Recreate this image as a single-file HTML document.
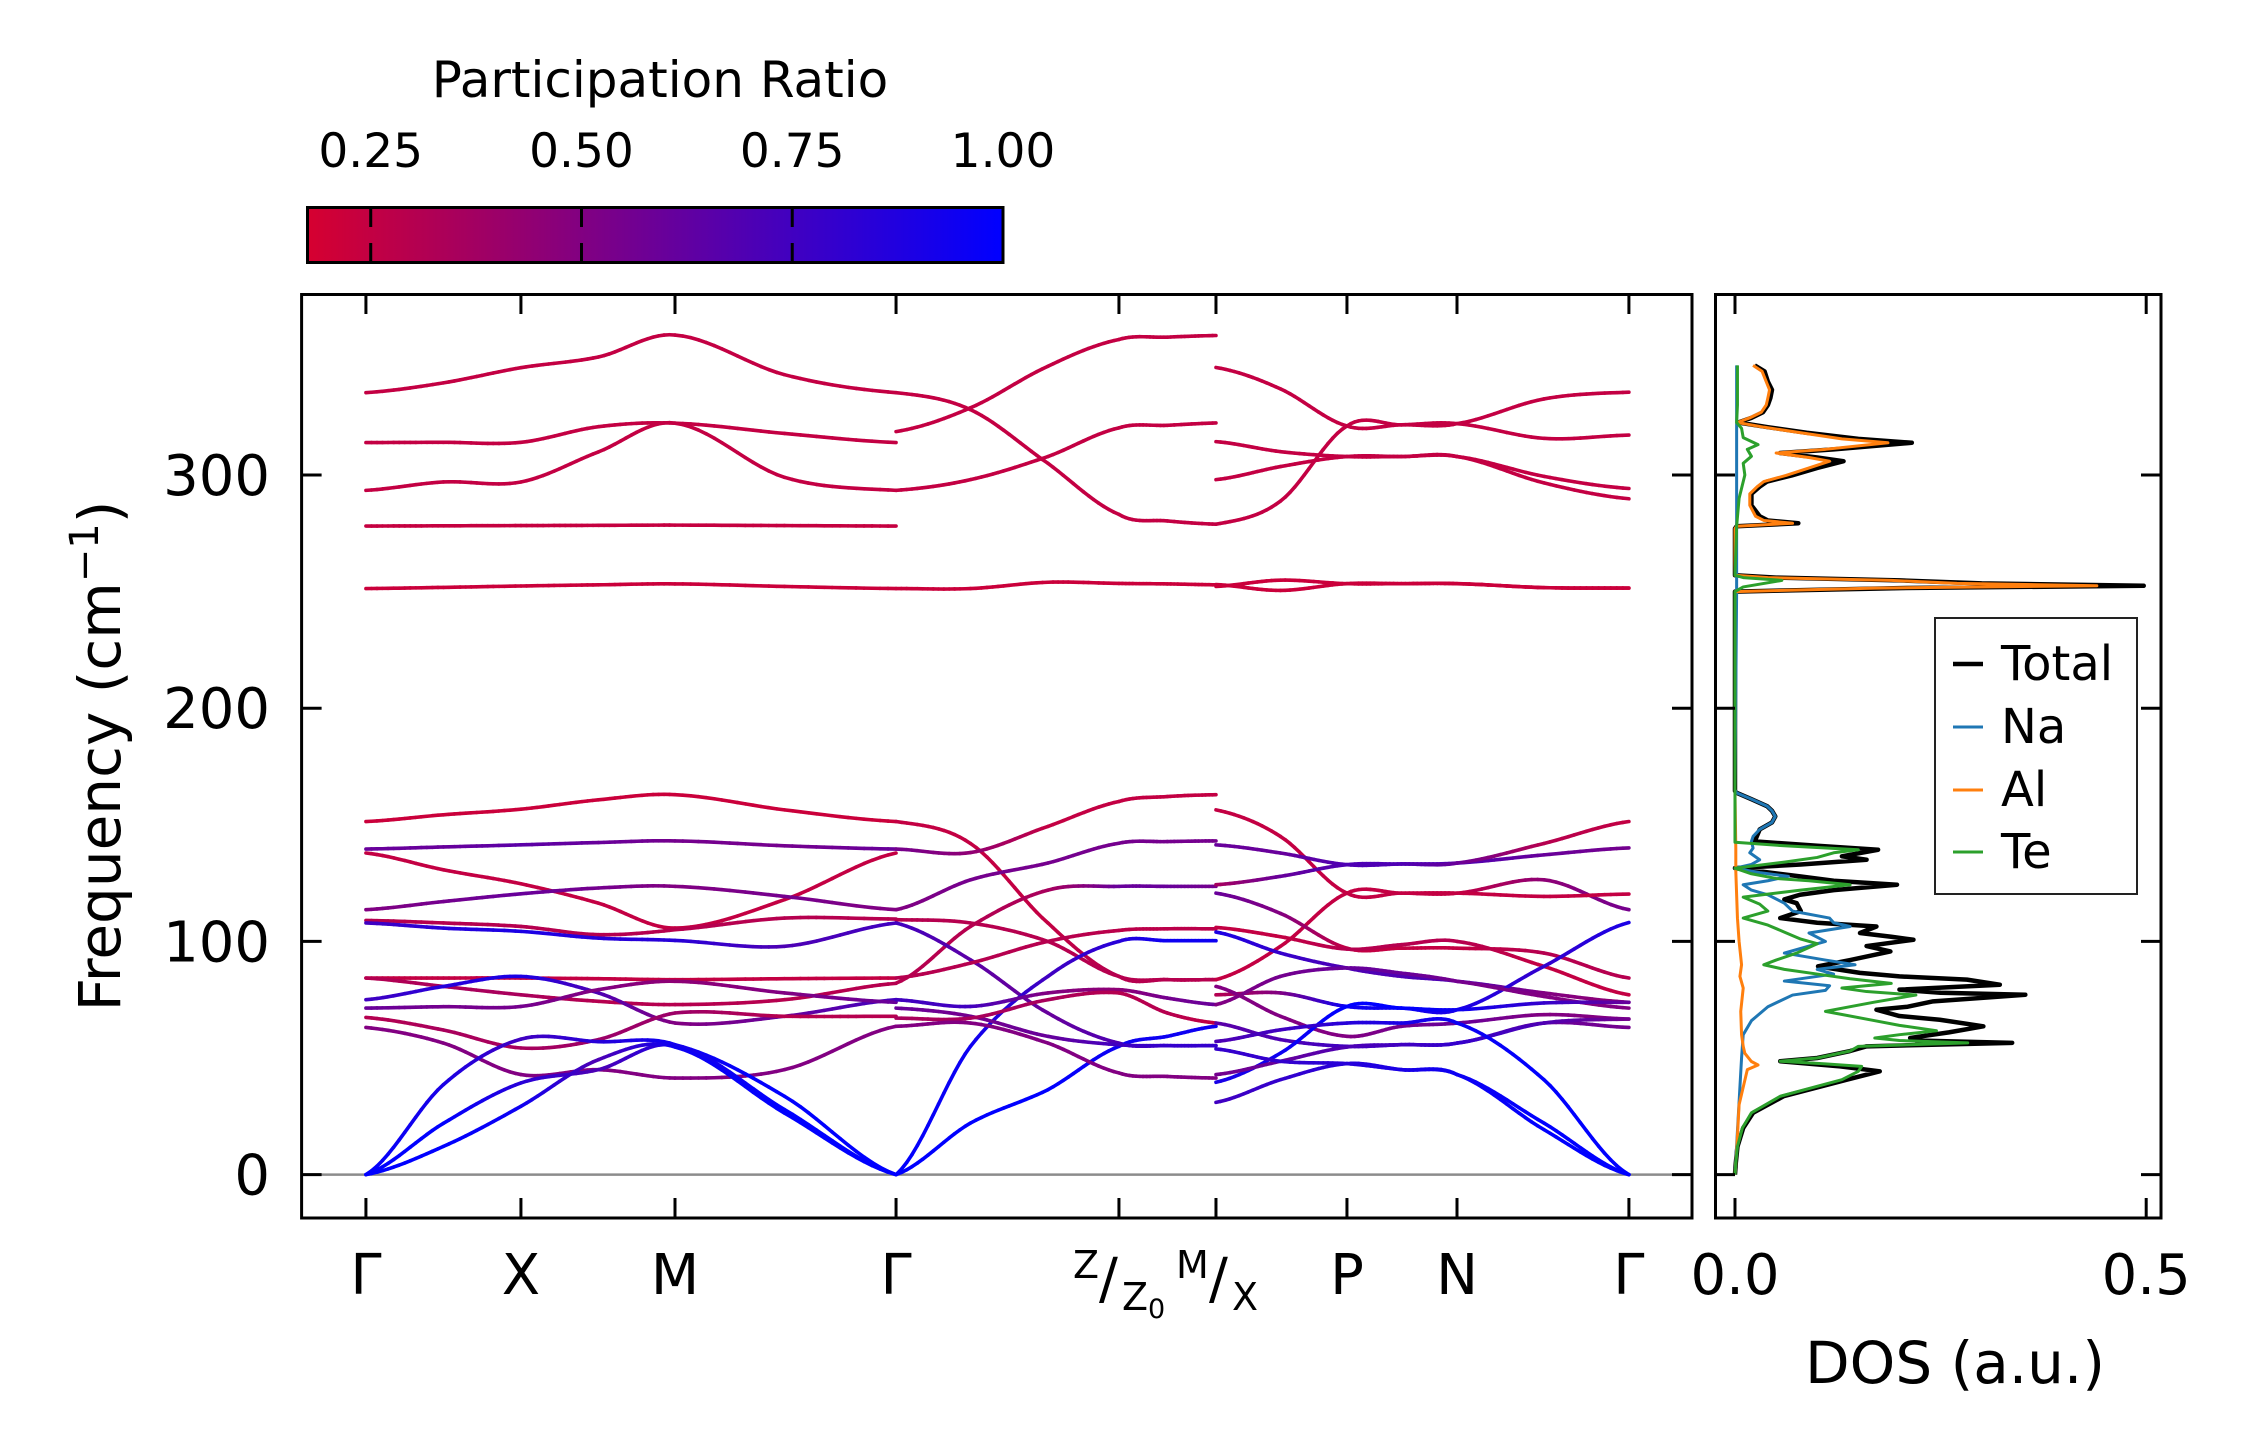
<!DOCTYPE html>
<html><head><meta charset="utf-8"><title>Phonon band structure and DOS</title>
<style>
html,body{margin:0;padding:0;background:#fff;}
svg{display:block;}
text{font-family:"DejaVu Sans","Liberation Sans",sans-serif;fill:#000;}
</style></head>
<body>
<svg id="fig" xmlns="http://www.w3.org/2000/svg" width="2252" height="1455" viewBox="0 0 2252 1455">
  <defs>
    <linearGradient id="cbgrad" x1="0" x2="1" y1="0" y2="0">
      <stop offset="0" stop-color="rgb(214,0,48)"/>
      <stop offset="1" stop-color="rgb(0,0,255)"/>
    </linearGradient>
    <clipPath id="mainclip"><rect x="301.6" y="294" width="1390.4" height="924"/></clipPath>
    <clipPath id="dosclip"><rect x="1715" y="294" width="446" height="924"/></clipPath>
  </defs>
  <rect width="2252" height="1455" fill="#fff"/>

  <!-- colorbar -->
  <g>
    <text x="660" y="97" font-size="50" text-anchor="middle">Participation Ratio</text>
    <rect x="307.5" y="207.5" width="695.5" height="55" fill="url(#cbgrad)" stroke="#000" stroke-width="3"/>
    <g id="cbticks"></g>
  </g>

  <!-- main band panel -->
  <g>
    <line id="zeroline" x1="301.6" x2="1692" stroke="#8c8c8c" stroke-width="2.5"/>
    <g id="bands" clip-path="url(#mainclip)"></g>
    <rect x="301.6" y="294.5" width="1390.4" height="923.5" fill="none" stroke="#000" stroke-width="3"/>
    <g id="mainticks"></g>
    <text transform="translate(120,756) rotate(-90)" font-size="58" text-anchor="middle">Frequency (cm<tspan font-size="40" dy="-22">−1</tspan><tspan dy="22">)</tspan></text>
    <g font-size="38">
      <text x="1073" y="1278">Z</text>
      <text x="1099" y="1298" font-size="56">/</text>
      <text x="1122" y="1310">Z<tspan font-size="27" dy="8">0</tspan></text>
      <text x="1176" y="1278">M</text>
      <text x="1209" y="1298" font-size="56">/</text>
      <text x="1232" y="1310">X</text>
    </g>
  </g>

  <!-- DOS panel -->
  <g>
    <g id="dos" clip-path="url(#dosclip)"></g>
    <rect x="1715.5" y="294.5" width="445.5" height="923.5" fill="none" stroke="#000" stroke-width="3"/>
    <g id="dosticks"></g>
    <text x="1955" y="1383" font-size="58" text-anchor="middle">DOS (a.u.)</text>
    <g>
      <rect x="1935" y="618" width="202" height="276" fill="#fff" stroke="#222" stroke-width="2"/>
      <line x1="1953" x2="1983" y1="664" y2="664" stroke="#000" stroke-width="4.5"/>
      <text x="2001" y="680" font-size="48">Total</text>
      <line x1="1953" x2="1983" y1="727" y2="727" stroke="#1f77b4" stroke-width="3"/>
      <text x="2001" y="743" font-size="48">Na</text>
      <line x1="1953" x2="1983" y1="790" y2="790" stroke="#ff7f0e" stroke-width="3"/>
      <text x="2001" y="806" font-size="48">Al</text>
      <line x1="1953" x2="1983" y1="852" y2="852" stroke="#2ca02c" stroke-width="3"/>
      <text x="2001" y="868" font-size="48">Te</text>
    </g>
  </g>
</svg>
<script>
// ---------- data ----------
const yTicks = [0, 100, 200, 300];
const yTickLabels = ["0", "100", "200", "300"];
const kTicks = [0, 1.0, 1.994, 3.42, 4.858, 5.484, 6.329, 7.039, 8.148];
const kTickLabels = ["Γ", "X", "M", "Γ", "", "", "P", "N", "Γ"];
const cbTicks = [0.25, 0.5, 0.75, 1.0];
const cbTickLabels = ["0.25", "0.50", "0.75", "1.00"];
const dosTicks = [0.0, 0.5];
const dosTickLabels = ["0.0", "0.5"];

// k sample points per path segment
const kSegA = [0, 0.5, 1.0, 1.5, 1.994, 2.7, 3.42];
const kSegB = [3.42, 3.9, 4.4, 4.858, 5.17, 5.484];
const kSegC = [5.484, 5.9, 6.329, 6.68, 7.039, 7.6, 8.148];

// segment A bands: frequencies (cm^-1) and participation ratios
const bandsA = [
  [335.3,339.5,346,350.6,360,343,335.3],
  [313.9,314,314,320.7,322.2,317.8,313.9],
  [293.4,297,297,309.9,322.2,299,293.4],
  [278.1,278.2,278.3,278.4,278.5,278.3,278.1],
  [251.3,251.8,252.4,252.9,253.3,252.2,251.3],
  [151.4,154.3,156.7,160.7,162.9,156.4,151.4],
  [139.6,140.5,141.4,142.4,143.1,141,139.6],
  [137.9,130.7,124.7,116.4,105.7,117.9,137.9],
  [113.6,117.1,120.4,122.9,123.6,119.3,113.6],
  [109,107.9,106.4,102.9,105,110,109.6],
  [107.9,105.7,104.3,101.4,100.4,97.9,107.9],
  [84.3,84.3,84.3,84,83.6,84,84.3],
  [84.3,80.7,77.1,74.3,72.9,75,82],
  [75,80.7,85,77.9,65,67.9,75],
  [71.4,72,72.1,79.3,82.9,77.9,73.9],
  [67.4,62,54.3,57.9,69.3,67.9,67.9],
  [63.1,56.4,42.9,45,41.4,45,63.6],
  [0,38.6,58.1,57,55.7,33.6,0],
  [0,22,39.3,45,55.3,27.9,0],
  [0,12.1,29.3,49.3,54.7,26.4,0]
];
const prA = [
  [0.25,0.25,0.25,0.25,0.25,0.25,0.25],
  [0.25,0.25,0.25,0.25,0.25,0.25,0.25],
  [0.25,0.25,0.25,0.25,0.25,0.25,0.25],
  [0.24,0.24,0.24,0.24,0.24,0.24,0.24],
  [0.22,0.22,0.22,0.22,0.22,0.22,0.22],
  [0.22,0.22,0.22,0.22,0.22,0.22,0.22],
  [0.6,0.6,0.65,0.6,0.55,0.55,0.6],
  [0.25,0.25,0.25,0.25,0.25,0.25,0.25],
  [0.5,0.55,0.6,0.55,0.5,0.55,0.5],
  [0.3,0.3,0.3,0.3,0.3,0.3,0.3],
  [0.75,0.85,0.9,0.85,0.85,0.7,0.75],
  [0.25,0.25,0.25,0.25,0.25,0.25,0.25],
  [0.3,0.35,0.35,0.3,0.3,0.3,0.3],
  [0.75,0.85,0.9,0.7,0.5,0.6,0.75],
  [0.6,0.55,0.55,0.5,0.45,0.5,0.6],
  [0.3,0.35,0.35,0.4,0.4,0.3,0.3],
  [0.5,0.5,0.5,0.5,0.5,0.5,0.5],
  [1,0.9,0.75,0.85,0.95,1,1],
  [1,1,0.85,0.7,0.9,1,1],
  [1,1,0.95,0.7,0.95,1,1]
];

// segment B bands
const bandsB = [
  [318.6,328.8,346.6,358.1,359.1,359.8],
  [335.3,328,305,283.1,280.3,278.9],
  [293.4,298,307.9,320.2,321.3,322.3],
  [251.3,251.3,254,253.5,253.3,252.9],
  [151.4,142,107.9,85,83.6,83.6],
  [139.6,138.1,149.3,160,162.1,162.9],
  [113.6,126.4,133.6,142.1,142.8,143.1],
  [82.1,106.4,122,123.6,123.6,123.6],
  [109.3,107.9,100,85,83.6,83.6],
  [107.9,92.1,69.3,56.4,55.3,55.3],
  [84.3,90.7,100,104.7,105.4,105.4],
  [0,55,85,100,100.3,100.3],
  [0,22.1,36.4,55,59.3,63.6],
  [75,72.1,77.9,79.3,75.7,72.9],
  [71.4,67.9,59.3,55.7,55.3,55.3],
  [67.1,67.1,75,77.9,69.3,65],
  [63.6,65,56.4,43.6,42.1,41.4]
];
const prB = [
  [0.25,0.25,0.25,0.25,0.25,0.25],
  [0.25,0.25,0.25,0.25,0.25,0.25],
  [0.25,0.25,0.25,0.25,0.25,0.25],
  [0.22,0.22,0.22,0.22,0.22,0.22],
  [0.25,0.25,0.25,0.3,0.3,0.3],
  [0.55,0.45,0.25,0.25,0.25,0.25],
  [0.5,0.55,0.55,0.55,0.55,0.55],
  [0.3,0.3,0.35,0.6,0.6,0.55],
  [0.3,0.3,0.3,0.3,0.3,0.3],
  [0.75,0.65,0.6,0.7,0.75,0.75],
  [0.3,0.3,0.3,0.28,0.28,0.28],
  [1,0.95,0.75,0.85,0.95,0.95],
  [1,1,1,0.95,0.95,0.95],
  [0.75,0.75,0.5,0.45,0.55,0.6],
  [0.6,0.55,0.6,0.75,0.8,0.8],
  [0.35,0.35,0.35,0.3,0.3,0.25],
  [0.5,0.5,0.5,0.5,0.5,0.5]
];

// segment C bands
const bandsC = [
  [346.1,336.9,321,321.5,322,332.6,335.5],
  [314.3,310,307.9,307.9,307.9,299.4,294.2],
  [298,303.6,307.9,307.9,307.9,296.6,289.8],
  [278.9,288.8,321,321.5,322,315.7,317.1],
  [252.2,254.9,253.4,253.4,253.4,251.7,251.5],
  [253,250.5,253.4,253.4,253.4,251.7,251.5],
  [156.4,145,120.7,120.7,120.7,126.4,113.6],
  [83.6,97.9,120.7,120.7,120.7,119.3,120.3],
  [124.3,127.9,132.9,133.2,133.6,137.1,140.1],
  [141.4,137.9,132.9,133.2,133.6,142,151.4],
  [120.7,112,97.1,97.1,97.1,95,84.3],
  [106,102,96.7,98.6,100,89.3,77.1],
  [104,95,88.6,85,82.9,77.9,73.9],
  [77.1,77.9,72.1,71.4,70.7,89.3,108.1],
  [72.9,85,88.6,86.4,82.9,76.4,71.4],
  [80.7,67.9,59.3,63.6,65,68.6,66.7],
  [65,57.9,55,55.7,56.4,65,63.1],
  [39.6,52.1,72.1,71.4,70.7,73.6,73.9],
  [42.9,48.6,54.7,55.7,56.4,65,66.7],
  [31,40.7,47.6,45,42.9,22.1,0],
  [53.9,48.6,47.6,45,42.9,19.3,0],
  [57.1,62.1,65,65,65,40.7,0]
];
const prC = [
  [0.25,0.25,0.25,0.25,0.25,0.25,0.25],
  [0.25,0.25,0.25,0.25,0.25,0.25,0.25],
  [0.25,0.25,0.25,0.25,0.25,0.25,0.25],
  [0.25,0.25,0.25,0.25,0.25,0.25,0.25],
  [0.22,0.22,0.22,0.22,0.22,0.22,0.22],
  [0.22,0.22,0.22,0.22,0.22,0.22,0.22],
  [0.25,0.25,0.25,0.25,0.25,0.45,0.55],
  [0.25,0.25,0.25,0.25,0.25,0.25,0.25],
  [0.35,0.6,0.7,0.7,0.7,0.6,0.55],
  [0.6,0.6,0.7,0.7,0.6,0.3,0.25],
  [0.6,0.5,0.25,0.25,0.25,0.3,0.3],
  [0.25,0.25,0.3,0.3,0.3,0.25,0.25],
  [0.9,0.8,0.7,0.7,0.7,0.5,0.45],
  [0.3,0.5,0.95,0.95,0.9,0.8,0.9],
  [0.5,0.55,0.6,0.6,0.55,0.5,0.5],
  [0.5,0.5,0.5,0.55,0.6,0.5,0.5],
  [0.65,0.7,0.75,0.75,0.8,0.6,0.55],
  [0.9,0.95,1,1,0.95,0.8,0.6],
  [0.55,0.6,0.7,0.75,0.8,0.7,0.55],
  [0.75,0.8,0.85,0.9,0.95,1,1],
  [0.8,0.8,0.85,0.9,0.95,1,1],
  [0.7,0.75,0.85,0.9,0.95,1,1]
];

// DOS (frequency in cm^-1, value in a.u.)
const totalF = [0,5,12,20,26.5,33.6,40.7,44.3,46.4,48.6,50,53,55,56.5,57.5,58.6,61,63.6,66.4,68,70.7,72,74.3,77.1,78,79.3,81.4,83.6,85,86.5,89.3,92,95.7,98,100.7,102,103.6,106.4,108,110,113,116.4,118,120,122,124.3,126,127.9,131.4,133,135,136.5,139.3,141,142.9,148,151,153.6,156,158,161,163.7,164.5,250,251.5,252.5,253.5,254.8,256,257,277,278,279.3,280.5,282.3,287,291.9,295,297.2,299.8,303,305.9,307.5,309.4,311,313.8,315.5,318.1,320.5,322.5,324.5,326.9,330,333,336.5,340,344.4,347];
const totalV = [0,0.001,0.003,0.01,0.022,0.059,0.136,0.176,0.128,0.055,0.1,0.14,0.16,0.337,0.22,0.213,0.26,0.302,0.249,0.2,0.172,0.21,0.241,0.353,0.25,0.2,0.322,0.282,0.2,0.152,0.101,0.14,0.189,0.16,0.217,0.19,0.152,0.172,0.1,0.055,0.08,0.075,0.06,0.079,0.12,0.197,0.12,0.079,0.0,0.08,0.16,0.13,0.174,0.1,0.024,0.03,0.045,0.049,0.045,0.039,0.02,0.002,0,0,0.2,0.497,0.3,0.2,0.05,0,0,0.002,0.077,0.04,0.03,0.02,0.02,0.03,0.039,0.069,0.1,0.132,0.1,0.055,0.12,0.215,0.15,0.087,0.04,0.004,0.02,0.034,0.04,0.043,0.045,0.04,0.036,0.024];
const naF = [0,50,60,66,72,77,79,81,83,86,88,90,92,95,98,100,103.6,106.4,108,110,113,116.4,120,122,124.3,126,127.9,129.5,131.4,133,135,138,140,142.9,145,148,151,153.6,156,158,161,163.7,165,250,347];
const naV = [0,0.008,0.01,0.02,0.04,0.07,0.11,0.115,0.06,0.12,0.1,0.146,0.11,0.06,0.09,0.11,0.09,0.14,0.12,0.115,0.07,0.06,0.04,0.02,0.01,0.04,0.065,0.03,0.0,0.02,0.03,0.018,0.022,0.02,0.022,0.03,0.045,0.049,0.045,0.039,0.02,0.002,0,0.002,0.002];
const alF = [0,10,30,45,47,48.5,52,55,60,70,80,85,90,100,110,120,130,140,164,250,251.5,252.5,253.5,254.8,256,257,277,278,279.3,280.5,282.3,287,291.9,295,297.2,299.8,303,305.9,307.5,309.4,311,313.8,315.5,318.1,320.5,322.5,324.5,326.9,330,333,336.5,340,344.4,347];
const alV = [0,0.002,0.005,0.015,0.028,0.02,0.012,0.01,0.008,0.007,0.01,0.006,0.008,0.005,0.003,0.002,0.001,0.001,0,0,0.17,0.44,0.27,0.19,0.04,0,0,0.002,0.07,0.035,0.025,0.018,0.018,0.027,0.035,0.062,0.09,0.115,0.09,0.05,0.11,0.186,0.13,0.08,0.035,0.003,0.018,0.032,0.038,0.04,0.042,0.038,0.033,0.022];
const teF = [0,5,12,20,26.5,33.6,40.7,44.3,46.4,47.5,48.6,50,53,55,56.5,57.5,58.6,60,61.7,64,66,70,72,74,77,78.5,80,82,84,86,88,90,92,95,99,101,104,107,110,113,116,119,122,124.3,126,127,129,131.4,134,136,138,139.3,141,142.5,250,252,254.8,256,257,278,290,300,305,308,311,313,316,320,322.5,330,347];
const teV = [0,0.001,0.003,0.009,0.02,0.055,0.13,0.15,0.154,0.11,0.055,0.1,0.14,0.15,0.283,0.2,0.17,0.2,0.245,0.2,0.17,0.11,0.14,0.17,0.22,0.16,0.13,0.19,0.14,0.1,0.06,0.035,0.05,0.075,0.1,0.08,0.06,0.04,0.01,0.04,0.03,0.01,0.08,0.14,0.09,0.05,0.02,0.0,0.06,0.1,0.12,0.15,0.06,0.0,0,0.01,0.057,0.01,0,0.002,0.005,0.012,0.01,0.02,0.015,0.028,0.01,0.008,0.002,0.003,0.003];

// ---------- scales ----------
const NS = "http://www.w3.org/2000/svg";
const plotL = 301.6, plotR = 1692, plotT = 294, plotB = 1218;
const kMin = -0.415, kMax = 8.555, fMin = -18.6, fMax = 377.6;
const dosL = 1715, dosR = 2161, dMin = -0.0243, dMax = 0.518;
const cbL = 307.5, cbR = 1003, cbMin = 0.175, cbMax = 1.0;
function xk(k){ return plotL + (k - kMin) / (kMax - kMin) * (plotR - plotL); }
function yf(f){ return plotB - (f - fMin) / (fMax - fMin) * (plotB - plotT); }
function xd(v){ return dosL + (v - dMin) / (dMax - dMin) * (dosR - dosL); }
function xcb(v){ return cbL + (v - cbMin) / (cbMax - cbMin) * (cbR - cbL); }
function prColor(p){
  let t = (p - cbMin) / (cbMax - cbMin); t = Math.max(0, Math.min(1, t));
  const r = Math.round(214 * (1 - t)), g = 0, b = Math.round(48 + (255 - 48) * t);
  return "rgb(" + r + "," + g + "," + b + ")";
}
function mk(tag, attrs, parent){
  const el = document.createElementNS(NS, tag);
  for (const k in attrs) el.setAttribute(k, attrs[k]);
  parent.appendChild(el);
  return el;
}

// zero line
const zl = document.getElementById("zeroline");
zl.setAttribute("y1", yf(0)); zl.setAttribute("y2", yf(0));

// ---------- bands ----------
const bandsG = document.getElementById("bands");
function cr(p0, p1, p2, p3, t){
  const t2 = t * t, t3 = t2 * t;
  return 0.5 * ((2 * p1) + (-p0 + p2) * t + (2 * p0 - 5 * p1 + 4 * p2 - p3) * t2 + (-p0 + 3 * p1 - 3 * p2 + p3) * t3);
}
function drawSegment(ks, bands, prs, segName){
  const g = mk("g", {}, bandsG);
  
  
  bands.forEach(function(fr, bi){
    const pr = prs[bi];
    const bg = mk("g", {"stroke-width": "3.6", "stroke-linecap": "round", fill: "none"}, g);
    
    
    const n = ks.length, steps = 14;
    let prev = null;
    for (let i = 0; i < n - 1; i++) {
      const f0 = fr[Math.max(0, i - 1)], f1 = fr[i], f2 = fr[i + 1], f3 = fr[Math.min(n - 1, i + 2)];
      for (let s = 0; s <= steps; s++) {
        if (i > 0 && s === 0) continue;
        const t = s / steps;
        const k = ks[i] + (ks[i + 1] - ks[i]) * t;
        let f = cr(f0, f1, f2, f3, t);
        if (f < 0) f = 0;
        const p = pr[i] + (pr[i + 1] - pr[i]) * t;
        const pt = [xk(k), yf(f), p];
        if (prev) {
          mk("line", {x1: prev[0].toFixed(2), y1: prev[1].toFixed(2), x2: pt[0].toFixed(2), y2: pt[1].toFixed(2), stroke: prColor((prev[2] + p) / 2)}, bg);
        }
        prev = pt;
      }
    }
  });
}
drawSegment(kSegA, bandsA, prA, "segment-gamma-x-m-gamma");
drawSegment(kSegB, bandsB, prB, "segment-gamma-z-m");
drawSegment(kSegC, bandsC, prC, "segment-x-p-n-gamma");

// ---------- main axes ticks ----------
const mt = document.getElementById("mainticks");
yTicks.forEach(function(v, i){
  const y = yf(v);
  const l1 = mk("line", {x1: plotL, x2: plotL + 20, y1: y, y2: y, stroke: "#000", "stroke-width": 3}, mt);
  
  
  const l2 = mk("line", {x1: plotR - 20, x2: plotR, y1: y, y2: y, stroke: "#000", "stroke-width": 3}, mt);
  
  
  const t = mk("text", {x: 270, y: y + 20, "font-size": 56, "text-anchor": "end"}, mt);
  t.textContent = yTickLabels[i];
  
  
});
kTicks.forEach(function(k, i){
  const x = xk(k);
  const l1 = mk("line", {x1: x, x2: x, y1: plotB, y2: plotB - 20, stroke: "#000", "stroke-width": 3}, mt);
  
  
  const l2 = mk("line", {x1: x, x2: x, y1: plotT, y2: plotT + 20, stroke: "#000", "stroke-width": 3}, mt);
  
  
  if (kTickLabels[i]) {
    const t = mk("text", {x: x, y: 1294, "font-size": 56, "text-anchor": "middle"}, mt);
    t.textContent = kTickLabels[i];
    
    
  }
});

// ---------- colorbar ticks ----------
const cbt = document.getElementById("cbticks");
cbTicks.forEach(function(v, i){
  const x = xcb(v);
  if (v < cbMax) {
    const a = mk("line", {x1: x, x2: x, y1: 207, y2: 227, stroke: "#000", "stroke-width": 3}, cbt);
    
    
    const b = mk("line", {x1: x, x2: x, y1: 243, y2: 263, stroke: "#000", "stroke-width": 3}, cbt);
    
    
  }
  const t = mk("text", {x: x, y: 167, "font-size": 47, "text-anchor": "middle"}, cbt);
  t.textContent = cbTickLabels[i];
  
  
});

// ---------- DOS ----------
const dg = document.getElementById("dos");
function dosLine(F, V, color, w, name){
  let pts = [];
  for (let i = 0; i < F.length; i++) pts.push(xd(V[i]).toFixed(2) + "," + yf(F[i]).toFixed(2));
  const p = mk("polyline", {points: pts.join(" "), fill: "none", stroke: color, "stroke-width": w, "stroke-linejoin": "round"}, dg);
  
  
}
dosLine(totalF, totalV, "#000", 4.5, "dos-total-line");
dosLine(naF, naV, "#1f77b4", 3, "dos-na-line");
dosLine(alF, alV, "#ff7f0e", 3, "dos-al-line");
dosLine(teF, teV, "#2ca02c", 3, "dos-te-line");

const dt = document.getElementById("dosticks");
yTicks.forEach(function(v){
  const y = yf(v);
  const a = mk("line", {x1: dosL, x2: dosL + 20, y1: y, y2: y, stroke: "#000", "stroke-width": 3}, dt);
  
  
  const b = mk("line", {x1: dosR - 20, x2: dosR, y1: y, y2: y, stroke: "#000", "stroke-width": 3}, dt);
  
  
});
dosTicks.forEach(function(v, i){
  const x = xd(v);
  const a = mk("line", {x1: x, x2: x, y1: plotB, y2: plotB - 20, stroke: "#000", "stroke-width": 3}, dt);
  
  
  const b = mk("line", {x1: x, x2: x, y1: plotT, y2: plotT + 20, stroke: "#000", "stroke-width": 3}, dt);
  
  
  const t = mk("text", {x: x, y: 1294, "font-size": 56, "text-anchor": "middle"}, dt);
  t.textContent = dosTickLabels[i];
  
  
});
</script>
</body></html>
